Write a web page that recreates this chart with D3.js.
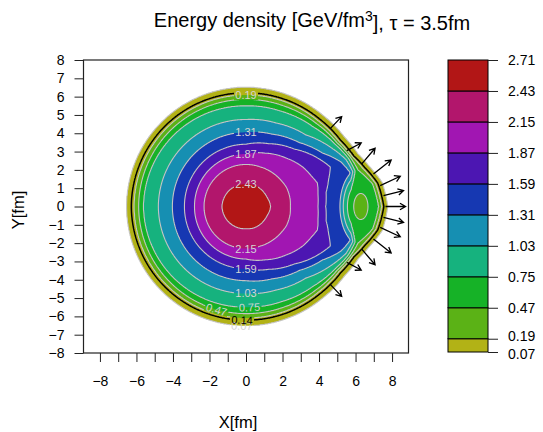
<!DOCTYPE html>
<html>
<head>
<meta charset="utf-8">
<script src="https://cdn.jsdelivr.net/npm/d3@7"></script>
<style>
  body { margin: 0; background: #fff; }
  svg { display: block; font-family: "Liberation Sans", Arial, sans-serif; }
</style>
</head>
<body>
<div id="chart"></div>
<script>
// Contour levels (also the ticks of the colour key).
const levels = [0.07, 0.19, 0.47, 0.75, 1.03, 1.31, 1.59, 1.87, 2.15, 2.43, 2.71];
const bandColors = ['#b2b216', '#5bb216', '#16b227', '#16b27e', '#168fb2',
                    '#1638b2', '#4c16b2', '#a116b2', '#b2166c', '#b21616'];

// Energy density profile: knot values, and the radius [fm] where each is
// reached, read off the picture along rays at several angles from +x.
const profileValues = [2.6, 2.43, 2.15, 1.87, 1.59, 1.31, 1.03, 0.75, 0.47, 0.19, 0.14, 0.07, 0];
const radiiAt0   = [0, 1.35, 2.43, 3.95, 4.36, 5.30, 5.56, 5.74, 7.27, 7.42, 7.55, 7.77, 7.85];
const radiiAt10  = [0, 1.32, 2.45, 4.01, 4.45, 5.42, 5.68, 5.85, 7.05, 7.20, 7.33, 7.58, 7.66];
const radiiAt18  = [0, 1.28, 2.45, 4.12, 4.75, 6.00, 6.15, 6.28, 6.45, 6.72, 6.85, 7.10, 7.18];
const radiiAt25  = [0, 1.26, 2.45, 3.95, 5.10, 5.75, 6.05, 6.20, 6.32, 6.42, 6.52, 6.78, 6.86];
const radiiAt35  = [0, 1.25, 2.40, 3.78, 4.70, 5.10, 5.65, 5.95, 6.08, 6.20, 6.32, 6.60, 6.68];
const radiiAt50  = [0, 1.25, 2.35, 3.45, 4.10, 4.55, 5.10, 5.70, 5.95, 6.12, 6.25, 6.53, 6.61];
const radiiAt70  = [0, 1.25, 2.30, 3.10, 3.65, 4.20, 4.85, 5.55, 5.87, 6.10, 6.22, 6.52, 6.60];
const radiiAt90  = [0, 1.22, 2.30, 2.87, 3.40, 4.05, 4.75, 5.50, 5.85, 6.08, 6.20, 6.52, 6.60];
const radiiAt180 = [0, 1.32, 2.30, 2.82, 3.37, 4.03, 4.80, 5.62, 5.88, 6.12, 6.28, 6.55, 6.63];
const profileAngles = [0, 10, 18, 25, 35, 50, 70, 90, 180];
const profileRadii = [radiiAt0, radiiAt10, radiiAt18, radiiAt25, radiiAt35,
                      radiiAt50, radiiAt70, radiiAt90, radiiAt180];

// Low density hole inside the hot spot: centre and half axes [fm].
const holeCenter = [6.29, 0];
const holeAxes = [0.39, 0.71];

// Flow arrows on the freeze-out line, upper half (lower half is mirrored).
const arrowX  = [4.60, 5.52, 6.34, 6.98, 7.35, 7.53, 7.64];
const arrowY  = [4.24, 3.05, 2.33, 1.78, 1.14, 0.60, 0];
const arrowDX = [0.64, 0.79, 0.73, 0.97, 1.10, 1.10, 1.10];
const arrowDY = [0.67, 0.42, 0.85, 0.76, 0.51, 0.27, 0];

// Contour labels: level and the angle [deg] where the label sits.
const labelLevels = [0.07, 0.14, 0.19, 0.47, 0.75, 1.03, 1.31, 1.59, 1.87, 2.15, 2.43];
const labelAngles = [-92, -92, 90, -106, -88, -90, 90, -90, 90, -90, 90];

const xTicks = d3.range(-8, 9);
const xTickLabels = d3.range(-8, 9, 2);
const yTicks = d3.range(-8, 9);

// Field utilities.
function radiiAtAngle(ang) {
  let k = d3.bisectRight(profileAngles, ang) - 1;
  k = Math.max(0, Math.min(k, profileAngles.length - 2));
  const t = (ang - profileAngles[k]) / (profileAngles[k + 1] - profileAngles[k]);
  return profileRadii[k].map((r, i) => r * (1 - t) + profileRadii[k + 1][i] * t);
}

function density(x, y) {
  const r = Math.hypot(x, y);
  const ang = Math.abs(Math.atan2(y, x)) * 180 / Math.PI;
  const radii = radiiAtAngle(ang);
  let v = 0;
  if (r < radii[radii.length - 1]) {
    const i = d3.bisectRight(radii, r) - 1;
    const u = (r - radii[i]) / (radii[i + 1] - radii[i]);
    v = profileValues[i] + u * (profileValues[i + 1] - profileValues[i]);
  }
  const ex = (x - holeCenter[0]) / holeAxes[0];
  const ey = (y - holeCenter[1]) / holeAxes[1];
  return Math.min(v, 0.36 + 0.11 * (ex * ex + ey * ey));
}

// Layout.
const W = 543, H = 432;
const plot = {left: 83.5, right: 408.5, top: 60, bottom: 353};

const x = d3.scaleLinear().domain([-8.9, 8.9]).range([plot.left, plot.right]);
const y = d3.scaleLinear().domain([-8, 8]).range([plot.bottom, plot.top]);

const svg = d3.select('#chart').append('svg')
  .attr('width', W)
  .attr('height', H);

svg.append('clipPath').attr('id', 'clip')
  .append('rect')
  .attr('x', plot.left).attr('y', plot.top)
  .attr('width', plot.right - plot.left).attr('height', plot.bottom - plot.top);

// Sample the field.
const step = 0.035;
const gx0 = -9.5, gy1 = 8.5;
const nx = Math.round(19 / step) + 1;
const ny = Math.round(17 / step) + 1;
const grid = new Float64Array(nx * ny);
for (let j = 0; j < ny; j++) {
  for (let i = 0; i < nx; i++) {
    grid[j * nx + i] = density(gx0 + i * step, gy1 - j * step);
  }
}

const path = d3.geoPath(d3.geoTransform({
  point(px, py) {
    this.stream.point(x(gx0 + (px - 0.5) * step), y(gy1 - (py - 0.5) * step));
  }
}));

const bandContours = d3.contours().size([nx, ny]).thresholds(levels.slice(0, -1))(grid);
const edgeContour = d3.contours().size([nx, ny]).thresholds([0.14])(grid);

const g = svg.append('g').attr('clip-path', 'url(#clip)');

// Filled bands.
g.append('g')
  .selectAll('path')
  .data(bandContours)
  .join('path')
  .attr('d', path)
  .attr('fill', (d, i) => bandColors[i]);

// Label positions.
const labelData = labelLevels.map((lv, k) => {
  const ang = labelAngles[k];
  const idx = profileValues.indexOf(lv);
  const r = radiiAtAngle(Math.abs(ang))[idx];
  const a = ang * Math.PI / 180;
  const rot = ang < 0 ? -(ang + 90) : -(ang - 90);
  return {
    level: lv,
    px: x(r * Math.cos(a)),
    py: y(r * Math.sin(a)),
    rot: rot,
    text: d3.format('.2f')(lv)
  };
});

// Mask that breaks the contour lines under the labels.
const mask = svg.append('mask').attr('id', 'labelMask');
mask.append('rect').attr('width', W).attr('height', H).attr('fill', '#fff');
mask.selectAll('rect.hole')
  .data(labelData)
  .join('rect')
  .attr('class', 'hole')
  .attr('x', -12).attr('y', -5)
  .attr('width', 24).attr('height', 10)
  .attr('transform', d => `translate(${d.px},${d.py}) rotate(${d.rot})`)
  .attr('fill', '#000');

const lines = g.append('g').attr('mask', 'url(#labelMask)');

lines.append('g')
  .selectAll('path')
  .data(bandContours)
  .join('path')
  .attr('d', path)
  .attr('fill', 'none')
  .attr('stroke', '#c4c4c4')
  .attr('stroke-width', 1.1);

lines.append('path')
  .datum(edgeContour[0])
  .attr('d', path)
  .attr('fill', 'none')
  .attr('stroke', '#000')
  .attr('stroke-width', 1.5);

// Contour labels.
g.append('g')
  .selectAll('text')
  .data(labelData)
  .join('text')
  .attr('transform', d => `translate(${d.px},${d.py}) rotate(${d.rot})`)
  .attr('text-anchor', 'middle')
  .attr('dy', '0.36em')
  .style('font-size', '11px')
  .style('fill', d => d.level === 0.14 ? '#000' : '#d4d4d4')
  .text(d => d.text);

// Flow arrows.
const arrows = arrowX.map((ax, i) => ({x: ax, y: arrowY[i], dx: arrowDX[i], dy: arrowDY[i]}))
  .concat(arrowX.map((ax, i) => ({x: ax, y: -arrowY[i], dx: arrowDX[i], dy: -arrowDY[i]}))
  .filter(d => d.y !== 0));

function arrowPath(d) {
  const x1 = x(d.x), y1 = y(d.y), x2 = x(d.x + d.dx), y2 = y(d.y + d.dy);
  const a = Math.atan2(y2 - y1, x2 - x1);
  const len = 6.5, spread = Math.PI / 6;
  const h1 = [x2 - len * Math.cos(a - spread), y2 - len * Math.sin(a - spread)];
  const h2 = [x2 - len * Math.cos(a + spread), y2 - len * Math.sin(a + spread)];
  return `M${x1},${y1}L${x2},${y2}M${h1[0]},${h1[1]}L${x2},${y2}L${h2[0]},${h2[1]}`;
}

g.append('g')
  .selectAll('path')
  .data(arrows)
  .join('path')
  .attr('d', arrowPath)
  .attr('fill', 'none')
  .attr('stroke', '#000')
  .attr('stroke-width', 1.3);

// Plot box.
svg.append('rect')
  .attr('x', plot.left).attr('y', plot.top)
  .attr('width', plot.right - plot.left).attr('height', plot.bottom - plot.top)
  .attr('fill', 'none')
  .attr('stroke', '#222')
  .attr('stroke-width', 1.2);

// Axes.
const xAxis = d3.axisBottom(x)
  .tickValues(xTicks)
  .tickSize(9)
  .tickPadding(14)
  .tickFormat(d => xTickLabels.includes(d) ? d3.format('')(d) : '');

svg.append('g')
  .attr('transform', `translate(0,${plot.bottom})`)
  .call(xAxis)
  .call(a => a.select('.domain').remove())
  .call(a => a.selectAll('text').style('font-size', '14px').style('fill', '#000'))
  .call(a => a.selectAll('line').attr('stroke', '#222'));

const yAxis = d3.axisLeft(y)
  .tickValues(yTicks)
  .tickSize(9)
  .tickPadding(10)
  .tickFormat(d3.format(''));

svg.append('g')
  .attr('transform', `translate(${plot.left},0)`)
  .call(yAxis)
  .call(a => a.select('.domain').remove())
  .call(a => a.selectAll('text').style('font-size', '14px').style('fill', '#000'))
  .call(a => a.selectAll('line').attr('stroke', '#222'));

svg.append('text')
  .attr('x', 238).attr('y', 428)
  .attr('text-anchor', 'middle')
  .style('font-size', '16.5px')
  .text('X[fm]');

svg.append('text')
  .attr('transform', 'translate(24,210) rotate(-90)')
  .attr('text-anchor', 'middle')
  .style('font-size', '16.5px')
  .text('Y[fm]');

// Title.
const title = svg.append('text')
  .attr('x', 312).attr('y', 27)
  .attr('text-anchor', 'middle')
  .style('font-size', '20px');
title.append('tspan').text('Energy density [GeV/fm');
title.append('tspan').attr('dy', '-0.45em').style('font-size', '14px').text('3');
title.append('tspan').attr('dy', '0.45em').text('], \u03c4 = 3.5fm');

// Colour key.
const key = {left: 448, right: 488};
const yKey = d3.scaleLinear().domain([levels[0], levels[levels.length - 1]]).range([352, 60]);

svg.append('g')
  .selectAll('rect')
  .data(bandColors)
  .join('rect')
  .attr('x', key.left)
  .attr('y', (d, i) => yKey(levels[i + 1]))
  .attr('width', key.right - key.left)
  .attr('height', (d, i) => yKey(levels[i]) - yKey(levels[i + 1]))
  .attr('fill', d => d)
  .attr('stroke', '#000')
  .attr('stroke-width', 1);

svg.append('g')
  .attr('transform', `translate(${key.right},0)`)
  .call(d3.axisRight(yKey).tickValues(levels).tickSize(10).tickPadding(10).tickFormat(d3.format('.2f')))
  .call(a => a.select('.domain').remove())
  .call(a => a.selectAll('text')
    .style('font-size', '14px')
    .style('fill', '#000')
    .attr('dy', d => d === levels[0] ? '0.48em' : d === levels[1] ? '0.16em' : '0.32em'))
  .call(a => a.selectAll('line').attr('stroke', '#222'));
</script>
</body>
</html>
